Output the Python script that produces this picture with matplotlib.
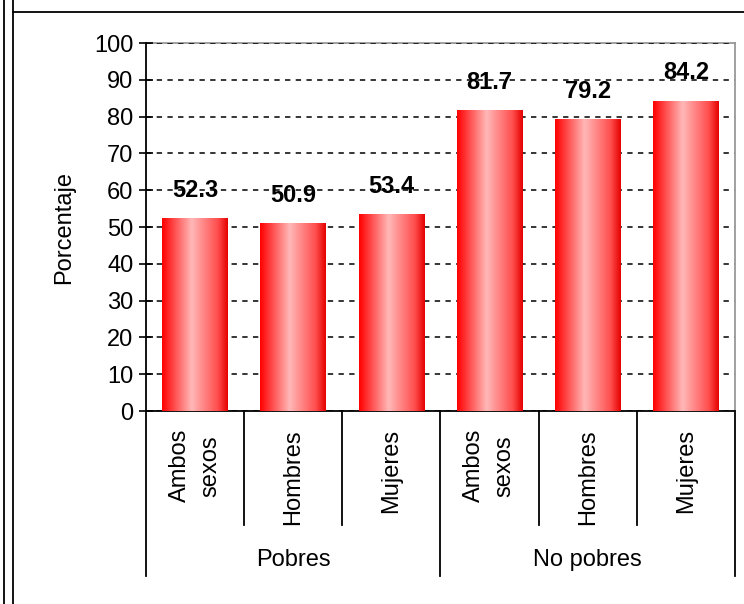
import matplotlib
matplotlib.use("Agg")
import matplotlib.pyplot as plt
import numpy as np
from matplotlib.colors import LinearSegmentedColormap
from matplotlib.lines import Line2D

plt.rcParams["font.family"] = ["Liberation Sans", "DejaVu Sans"]

# data
categories = ["Ambos\nsexos", "Hombres", "Mujeres", "Ambos\nsexos", "Hombres", "Mujeres"]
groups = ["Pobres", "No pobres"]
group_sizes = [3, 3]
values = [52.3, 50.9, 53.4, 81.7, 79.2, 84.2]
yticks = list(range(0, 101, 10))

# Excel-style horizontal gradient: red edges, pink middle
grad = LinearSegmentedColormap.from_list(
    "xl_red",
    [(0.0, (1.0, 0.0, 0.0)), (0.45, (1.0, 0.72, 0.72)),
     (0.85, (1.0, 0.30, 0.30)), (1.0, (0.90, 0.0, 0.0))],
)

fig = plt.figure(figsize=(7.44, 6.04), dpi=100, facecolor="white")
ax = fig.add_axes([146 / 744, 1 - 411 / 604, 589 / 744, 368 / 604])

x = np.arange(len(values))
bars = ax.bar(x, values, width=0.67, color="none", edgecolor="none", zorder=3)
ramp = np.linspace(0, 1, 256).reshape(1, -1)
for b, v in zip(bars, values):
    x0, w = b.get_x(), b.get_width()
    ax.imshow(ramp, cmap=grad, aspect="auto", extent=(x0, x0 + w, 0, b.get_height()),
              zorder=3, interpolation="bilinear")
    ax.annotate(f"{v:.1f}", (x0 + w / 2, v), xytext=(0, 12), textcoords="offset points",
                ha="center", va="bottom", fontsize=17, fontweight="bold", zorder=4)

ax.set_xlim(-0.5, len(values) - 0.5)
ax.set_ylim(0, 100)
ax.set_yticks(yticks)
ax.tick_params(axis="y", direction="inout", length=10, width=1.2, labelsize=17, pad=4)
ax.yaxis.grid(True, linestyle=(0, (3.5, 3.5)), color="black", linewidth=1.1, zorder=1)
ax.set_ylabel("Porcentaje", fontsize=17, labelpad=14)

ax.set_xticks(x)
ax.set_xticklabels(categories, rotation=90, fontsize=17, linespacing=1.5,
                   multialignment="center")
ax.tick_params(axis="x", length=0, pad=13)

for side in ("top", "right"):
    ax.spines[side].set_color("#999999")
    ax.spines[side].set_linewidth(1.3)
for side in ("left", "bottom"):
    ax.spines[side].set_color("black")
    ax.spines[side].set_linewidth(1.3)
ax.spines["top"].set_zorder(0.5)

# category separators and group labels below the axis
tr = ax.get_xaxis_transform()
bounds = np.cumsum([0] + group_sizes) - 0.5
for i in range(len(values) + 1):
    edge = i - 0.5
    y_end = -0.448 if edge in bounds else -0.31
    ax.add_line(Line2D([edge, edge], [0, y_end], transform=tr, color="black",
                       linewidth=1.3, clip_on=False))
for g, lo, hi in zip(groups, bounds[:-1], bounds[1:]):
    ax.text((lo + hi) / 2, -0.405, g, transform=tr, ha="center", va="center", fontsize=17)

# outer frame lines
for fx in (4 / 744, 13 / 744):
    fig.add_artist(Line2D([fx, fx], [0, 1], transform=fig.transFigure, color="black", linewidth=1.3))
fig.add_artist(Line2D([13 / 744, 1], [1 - 12 / 604] * 2, transform=fig.transFigure,
                      color="black", linewidth=1.3))

fig.savefig("out.png", dpi=100, facecolor="white")
